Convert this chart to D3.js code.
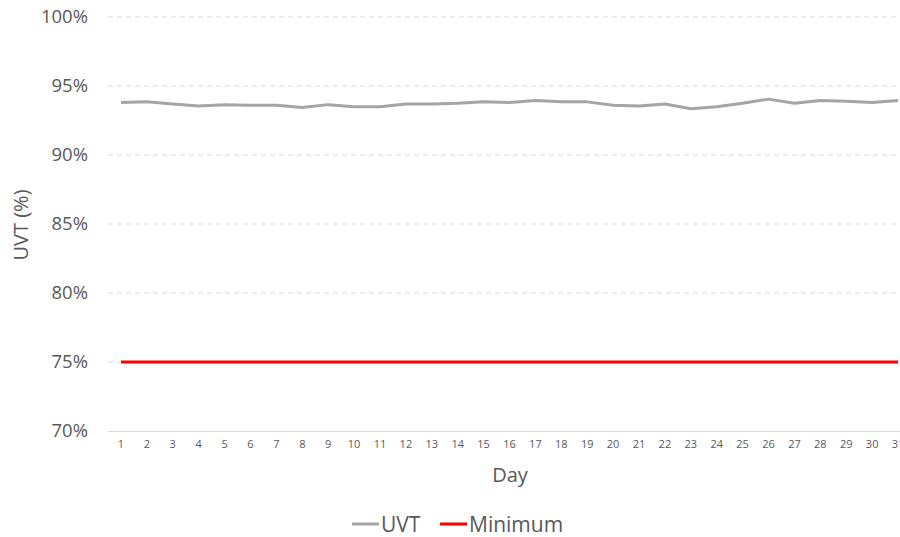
<!DOCTYPE html>
<html>
<head>
<meta charset="utf-8">
<script src="https://cdn.jsdelivr.net/npm/d3@7"></script>
<style>
  body { margin: 0; background: #fff; }
  text { font-family: "Open Sans", sans-serif; fill: #595959; }
</style>
</head>
<body>
<script>
var width = 900,
    height = 537;

// data
var days = d3.range(1, 32);
var uvt = [93.8, 93.85, 93.7, 93.55, 93.65, 93.6, 93.6, 93.45, 93.65, 93.5, 93.5,
           93.7, 93.7, 93.75, 93.85, 93.8, 93.95, 93.85, 93.85, 93.6, 93.55, 93.7,
           93.35, 93.5, 93.75, 94.05, 93.75, 93.95, 93.9, 93.8, 93.95];
var minimum = days.map(function(){ return 75; });
var yTicks = [70, 75, 80, 85, 90, 95, 100];

var svg = d3.select("body").append("svg")
    .attr("width", width)
    .attr("height", height);

var x = d3.scaleBand()
    .domain(days)
    .range([108, 911]);

var y = d3.scaleLinear()
    .domain([70, 100])
    .range([431, 17]);

// gridlines
svg.append("g")
    .selectAll("line")
    .data(yTicks.filter(function(t){ return t > 70; }))
    .enter().append("line")
    .attr("x1", 108).attr("x2", width)
    .attr("y1", function(d){ return y(d); })
    .attr("y2", function(d){ return y(d); })
    .attr("stroke", "#d9d9d9")
    .attr("stroke-width", 1)
    .attr("stroke-dasharray", "5,4");

// y axis labels
var yAxis = d3.axisLeft(y).tickValues(yTicks)
    .tickFormat(function(d){ return d + "%"; })
    .tickSize(0).tickPadding(0);
var gy = svg.append("g").attr("transform", "translate(88,0)").call(yAxis);
gy.select(".domain").remove();
gy.selectAll("text").style("font-size", "18.5px").attr("fill", "#595959");

// x axis
var xAxis = d3.axisBottom(x).tickSize(0).tickPadding(9);
var gx = svg.append("g").attr("transform", "translate(0,431)").call(xAxis);
gx.select(".domain").attr("stroke", "#d9d9d9").attr("d", "M108,0.5H" + width);
gx.selectAll("text").style("font-size", "11px").attr("fill", "#595959");

// axis titles
svg.append("text")
    .attr("transform", "translate(28,225) rotate(-90)")
    .attr("text-anchor", "middle")
    .style("font-size", "20px")
    .text("UVT (%)");

svg.append("text")
    .attr("x", 510).attr("y", 482)
    .attr("text-anchor", "middle")
    .style("font-size", "20px")
    .text("Day");

var line = d3.line()
    .x(function(d, i){ return x(days[i]) + x.bandwidth() / 2; })
    .y(function(d){ return y(d); });

svg.append("path")
    .datum(minimum)
    .attr("d", line)
    .attr("fill", "none")
    .attr("stroke", "#ff0000")
    .attr("stroke-width", 3);

svg.append("path")
    .datum(uvt)
    .attr("d", line)
    .attr("fill", "none")
    .attr("stroke", "#a5a5a5")
    .attr("stroke-width", 3)
    .attr("stroke-linejoin", "round");

// legend
var legend = [
  {name: "UVT", color: "#a5a5a5", x: 352},
  {name: "Minimum", color: "#ff0000", x: 440}
];
var lg = svg.selectAll(".legend").data(legend).enter().append("g")
    .attr("class", "legend")
    .attr("transform", function(d){ return "translate(" + d.x + ",524)"; });
lg.append("line")
    .attr("x1", 0).attr("x2", 27)
    .attr("stroke", function(d){ return d.color; })
    .attr("stroke-width", 3);
lg.append("text")
    .attr("x", 29).attr("y", 8)
    .style("font-size", "21px")
    .text(function(d){ return d.name; });
</script>
</body>
</html>
